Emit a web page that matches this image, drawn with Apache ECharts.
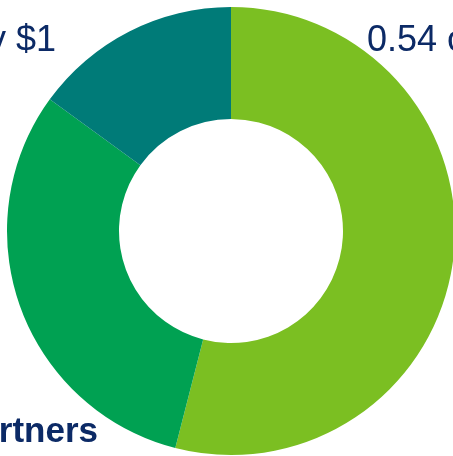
<!DOCTYPE html>
<html><head><meta charset="utf-8">
<script src="https://cdn.jsdelivr.net/npm/echarts@6/dist/echarts.min.js"></script>
<style>html,body{margin:0;padding:0;background:#fff;}#c{width:453px;height:456px;}</style>
</head><body><div id="c"></div>
<script>
const categories = ["Lime", "Partners", "Teal"];
const values = [0.54, 0.31, 0.15];
const colors = ["#7bbf22", "#00a152", "#007b78"];
const labelTexts = ["0.54 of every $1", "Partners", "0.15 of every $1"];

const chart = echarts.init(document.getElementById('c'));
chart.setOption({
  animation: false,
  graphic: [
    {type: 'text', left: 367, top: 23, style: {text: labelTexts[0], font: '36px "Liberation Sans", Arial', fill: '#0c2a66'}},
    {type: 'text', right: 453 - 56, top: 23, style: {text: labelTexts[2], font: '36px "Liberation Sans", Arial', fill: '#0c2a66', textAlign: 'right'}},
    {type: 'text', right: 453 - 98, top: 415, style: {text: labelTexts[1], font: 'bold 35px "Liberation Sans", Arial', fill: '#0c2a66', textAlign: 'right'}}
  ],
  series: [{
    type: 'pie',
    center: [231, 231],
    radius: [112, 224],
    startAngle: 90,
    label: {show: false},
    labelLine: {show: false},
    itemStyle: {borderWidth: 0},
    data: categories.map((c, i) => ({name: c, value: values[i], itemStyle: {color: colors[i]}}))
  }]
});
</script></body></html>
